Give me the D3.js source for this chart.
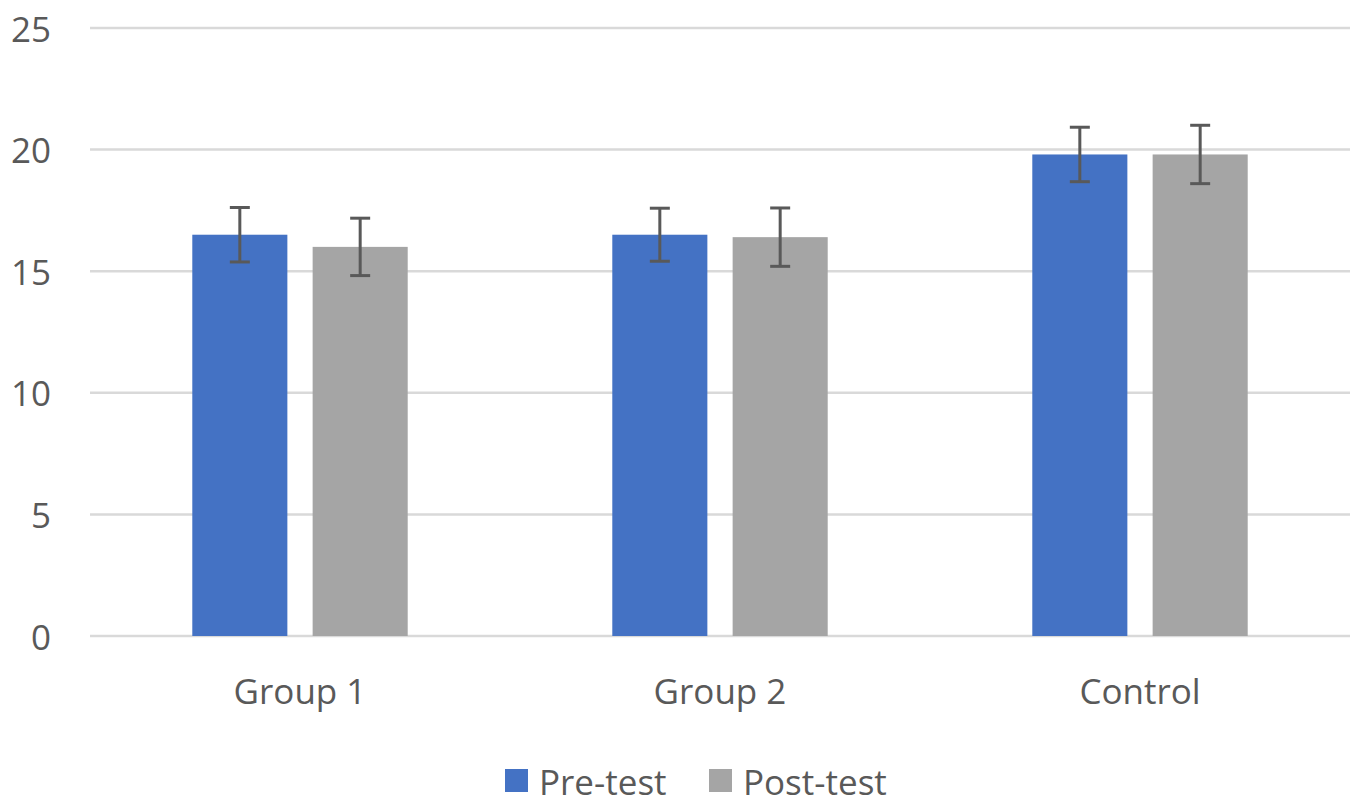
<!DOCTYPE html>
<html>
<head>
<meta charset="utf-8">
<script src="https://cdn.jsdelivr.net/npm/d3@7"></script>
<style>
  body { margin: 0; background: #fff; }
  text { font-family: "Open Sans", "Noto Sans", sans-serif; fill: #595959; }
</style>
</head>
<body>
<svg width="1358" height="805"></svg>
<script>
// данные графика
const categories = ["Group 1", "Group 2", "Control"];
const seriesNames = ["Pre-test", "Post-test"];
const seriesColors = ["#4472c4", "#a5a5a5"];
const preValues = [16.5, 16.5, 19.8];
const postValues = [16.0, 16.4, 19.8];
const preErrors = [1.12, 1.09, 1.12];
const postErrors = [1.18, 1.2, 1.2];
const yTicks = [0, 5, 10, 15, 20, 25];

const svg = d3.select("svg");
const plotLeft = 90, plotRight = 1350, plotTop = 28, plotBottom = 636;
const fontSize = 35;

const y = d3.scaleLinear().domain([0, 25]).range([plotBottom, plotTop]);
const x0 = d3.scaleBand().domain(categories).range([plotLeft, plotRight]).padding(0);
const x1 = d3.scaleBand().domain(seriesNames).range([0, x0.bandwidth()])
    .paddingInner(0.21).paddingOuter(0.85);

// сетка
svg.append("g").selectAll("line").data(yTicks).join("line")
    .attr("x1", plotLeft).attr("x2", plotRight)
    .attr("y1", d => y(d)).attr("y2", d => y(d))
    .attr("stroke", "#d9d9d9").attr("stroke-width", 2.5);

// подписи оси Y
svg.append("g").selectAll("text").data(yTicks).join("text")
    .attr("x", 51).attr("y", d => y(d))
    .attr("text-anchor", "end").attr("dominant-baseline", "central")
    .attr("font-size", fontSize).text(d => d);

// столбцы
const rows = categories.map((c, i) => [
    {cat: c, s: seriesNames[0], v: preValues[i], e: preErrors[i], col: seriesColors[0]},
    {cat: c, s: seriesNames[1], v: postValues[i], e: postErrors[i], col: seriesColors[1]}
]).flat();

svg.append("g").selectAll("rect").data(rows).join("rect")
    .attr("x", d => x0(d.cat) + x1(d.s))
    .attr("width", x1.bandwidth())
    .attr("y", d => y(d.v))
    .attr("height", d => y(0) - y(d.v))
    .attr("fill", d => d.col);

// планки погрешностей
const err = svg.append("g").attr("stroke", "#595959").attr("stroke-width", 3);
rows.forEach(d => {
    const cx = x0(d.cat) + x1(d.s) + x1.bandwidth() / 2;
    err.append("line").attr("x1", cx).attr("x2", cx)
        .attr("y1", y(d.v + d.e)).attr("y2", y(d.v - d.e));
    [d.v + d.e, d.v - d.e].forEach(t => {
        err.append("line").attr("x1", cx - 10).attr("x2", cx + 10)
            .attr("y1", y(t)).attr("y2", y(t));
    });
});

// подписи категорий
svg.append("g").selectAll("text").data(categories).join("text")
    .attr("x", d => x0(d) + x0.bandwidth() / 2).attr("y", 690)
    .attr("text-anchor", "middle").attr("dominant-baseline", "central")
    .attr("font-size", fontSize).text(d => d);

// легенда
const legendX = [505, 709];
const legend = svg.append("g").selectAll("g").data(seriesNames).join("g")
    .attr("transform", (d, i) => `translate(${legendX[i]},769)`);
legend.append("rect").attr("width", 23).attr("height", 23)
    .attr("fill", (d, i) => seriesColors[i]);
legend.append("text").attr("x", 34).attr("y", 12)
    .attr("dominant-baseline", "central").attr("font-size", fontSize).text(d => d);
</script>
</body>
</html>
